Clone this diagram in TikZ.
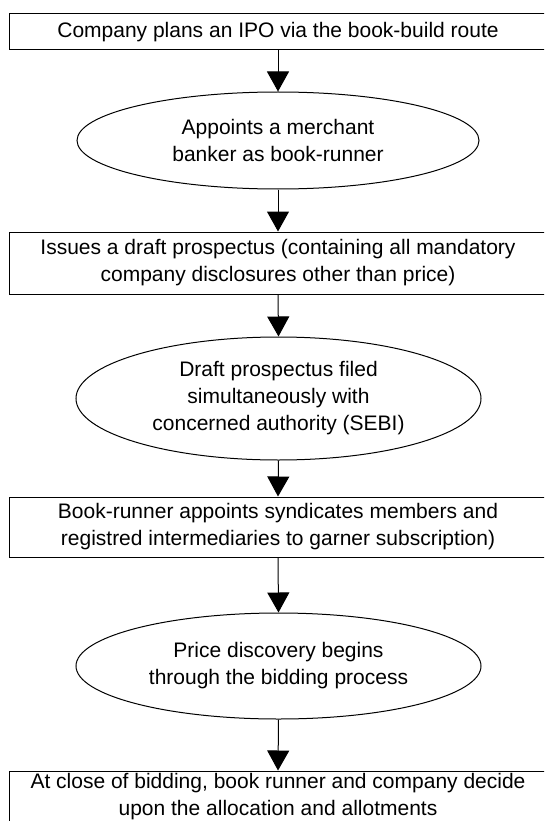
\documentclass[tikz,border=0pt]{standalone}
\usepackage{fontspec}
\setmainfont{Liberation Sans}
\usetikzlibrary{shapes.geometric,arrows.meta}
\tikzset{
  stepbox/.style={draw=black, line width=1pt, rectangle, minimum width=538pt, inner sep=0pt, align=center, font=\fontsize{21}{27}\selectfont},
  stepoval/.style={draw=black, line width=1pt, ellipse, inner sep=0pt, align=center, font=\fontsize{21}{27}\selectfont},
  flow/.style={draw=black, line width=1pt, -{Triangle[width=22pt,length=20pt]}}
}
\begin{document}
\begin{tikzpicture}[x=1pt,y=1pt]
\useasboundingbox (0,0) rectangle (544,-821);
\clip (0,0) rectangle (544,-821);
\fill[white] (0,0) rectangle (544,-821);
\node[stepbox, minimum height=35.5pt] (b1) at (278,-31.75) {Company plans an IPO via the book-build route};
\node[stepoval, minimum width=402pt, minimum height=97pt] (e1) at (278,-140.5) {Appoints a merchant\\banker as book-runner};
\node[stepbox, minimum height=62pt] (b2) at (278,-263) {Issues a draft prospectus (containing all mandatory\\company disclosures other than price)};
\node[stepoval, minimum width=405pt, minimum height=123pt] (e2) at (278.5,-398.5) {Draft prospectus filed\\simultaneously with\\concerned authority (SEBI)};
\node[stepbox, minimum height=60pt] (b3) at (278,-527) {Book-runner appoints syndicates members and\\registred intermediaries to garner subscription)};
\node[stepoval, minimum width=405pt, minimum height=106pt] (e3) at (278.5,-666) {Price discovery begins\\through the bidding process};
\node[stepbox, minimum height=52pt] (b4) at (278,-797) {At close of bidding, book runner and company decide\\upon the allocation and allotments};
\draw[flow] (b1.south) -- (e1.north);
\draw[flow] (e1.south) -- (b2.north);
\draw[flow] (b2.south) -- (e2.north);
\draw[flow] (e2.south) -- (b3.north);
\draw[flow] (b3.south) -- (e3.north);
\draw[flow] (e3.south) -- (b4.north);
\end{tikzpicture}
\end{document}
